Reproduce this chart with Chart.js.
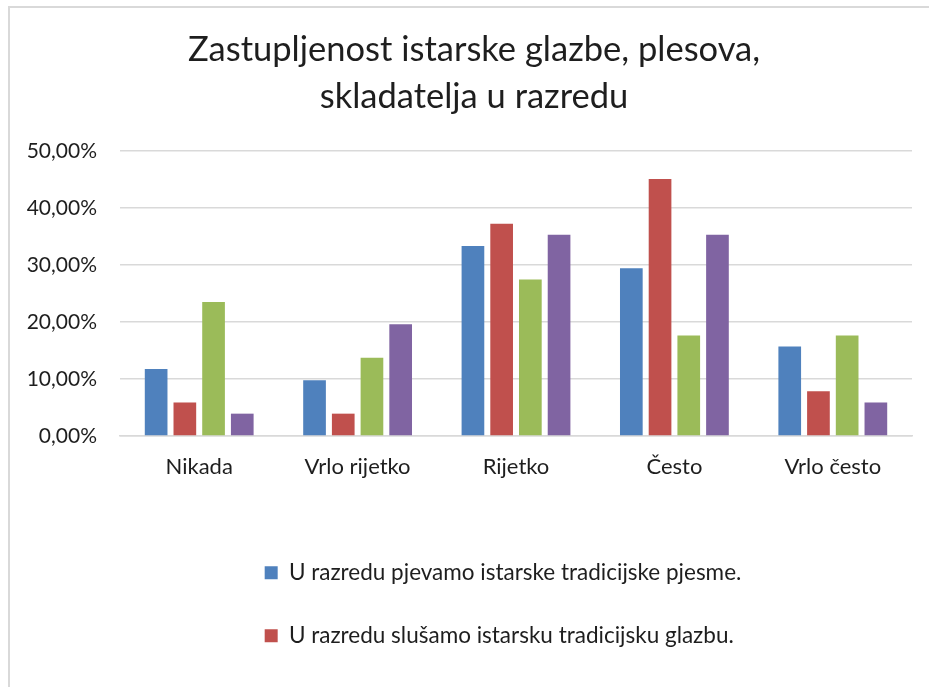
<!DOCTYPE html>
<html>
<head>
<meta charset="utf-8">
<script src="https://cdn.jsdelivr.net/npm/chart.js@4/dist/chart.umd.min.js"></script>
<style>
  html, body { margin: 0; padding: 0; background: #fff; overflow: hidden; width: 929px; height: 687px; }
  #wrap { position: absolute; left: 0; top: 0; width: 947px; height: 687px; }
  #frame { position: absolute; left: 8px; top: 6px; width: 1000px; height: 800px;
           border-left: 2px solid #d9d9d9; border-top: 2px solid #d9d9d9; pointer-events: none; }
</style>
</head>
<body>
<div id="wrap"><canvas id="c" width="947" height="687"></canvas></div>
<div id="frame"></div>
<script>
const titleLines = ['Zastupljenost istarske glazbe, plesova,', 'skladatelja u razredu'];
const categories = ['Nikada', 'Vrlo rijetko', 'Rijetko', 'Često', 'Vrlo često'];
const seriesNames = [
  'U razredu pjevamo istarske tradicijske pjesme.',
  'U razredu slušamo istarsku tradicijsku glazbu.',
  'U razredu plešemo istarske tradicijske plesove.',
  'U razredu učimo o istarskim skladateljima.'
];
const pjevamo = [11.76, 9.80, 33.33, 29.41, 15.69];
const slusamo = [5.88, 3.92, 37.25, 45.10, 7.84];
const plesemo = [23.53, 13.73, 27.45, 17.65, 17.65];
const skladatelji = [3.92, 19.61, 35.29, 35.29, 5.88];
const seriesColors = ['#4F81BD', '#C0504D', '#9BBB59', '#8064A2'];
const yTicks = [0, 10, 20, 30, 40, 50];

const FONT = 'Lato, "Open Sans", sans-serif';
const TXT = '#1e1e1e';

const layoutTweaks = {
  id: 'layoutTweaks',
  afterLayout(chart) {
    const lg = chart.legend;
    if (lg && lg.lineWidths && lg.lineWidths.length) {
      const m = Math.max(...lg.lineWidths) + 26;
      lg.lineWidths = lg.lineWidths.map(() => m);
    }
    const tb = chart.titleBlock;
    if (tb) { tb.left = 36; }
  }
};

const allSeries = [pjevamo, slusamo, plesemo, skladatelji];

new Chart(document.getElementById('c'), {
  type: 'bar',
  data: {
    labels: categories,
    datasets: allSeries.map((d, i) => ({
      label: seriesNames[i],
      data: d,
      backgroundColor: seriesColors[i],
      borderWidth: 0,
      categoryPercentage: 0.725,
      barPercentage: 0.79
    }))
  },
  options: {
    responsive: false,
    animation: false,
    layout: { padding: { left: 0, right: 35, top: 0, bottom: 30 } },
    plugins: {
      tooltip: { enabled: false },
      title: {
        display: true,
        text: titleLines,
        color: TXT,
        font: { family: FONT, size: 34.5, weight: 'normal', lineHeight: '47px' },
        padding: { top: 26, bottom: 31 }
      },
      legend: {
        display: true,
        position: 'bottom',
        fullSize: false,
        labels: {
          filter: (item) => item.datasetIndex < 2,
          color: TXT,
          font: { family: FONT, size: 22.5 },
          boxWidth: 13,
          boxHeight: 13,
          padding: 40.5
        }
      }
    },
    scales: {
      x: {
        grid: { display: false },
        border: { display: true, color: '#d9d9d9', width: 1.5 },
        ticks: { color: TXT, font: { family: FONT, size: 22 }, padding: 10, maxRotation: 0 },
        afterFit: (s) => { s.height = 85; }
      },
      y: {
        min: 0,
        max: 50,
        afterBuildTicks: (s) => { s.ticks = yTicks.map(v => ({ value: v })); },
        grid: { color: '#d9d9d9', lineWidth: 1.5, drawTicks: false },
        border: { display: false },
        ticks: {
          color: TXT,
          font: { family: FONT, size: 21 },
          padding: 23,
          callback: (v) => v.toFixed(2).replace('.', ',') + '%'
        },
        afterFit: (s) => { s.width = 120; }
      }
    }
  },
  plugins: [layoutTweaks]
});
</script>
</body>
</html>
